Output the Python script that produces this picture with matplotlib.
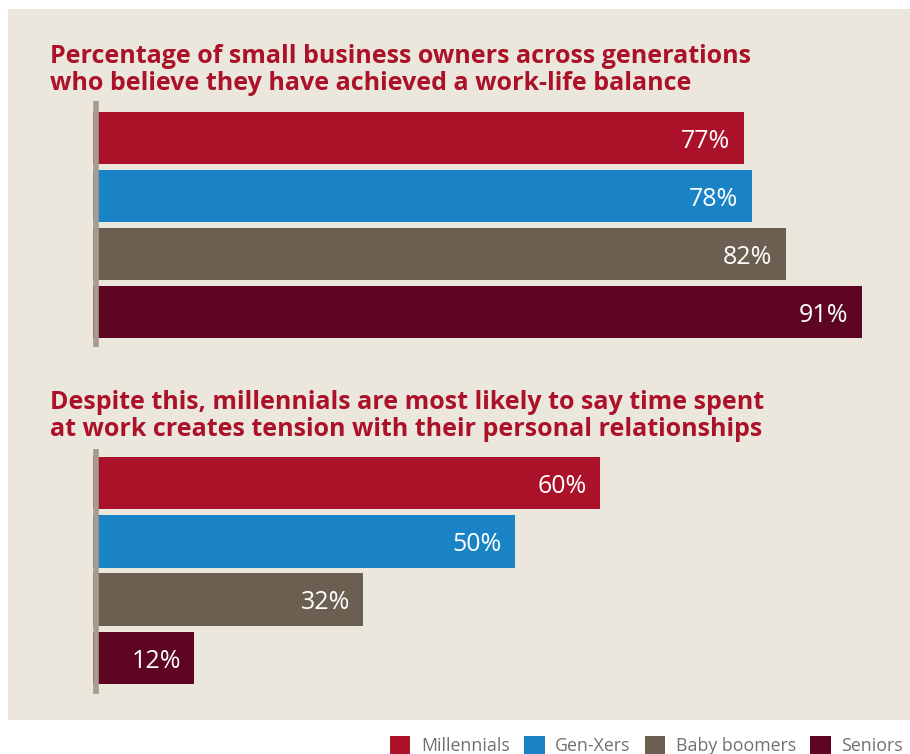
"""Two stacked bar panels: work-life balance vs. relationship tension by generation."""

import matplotlib

matplotlib.use("Agg")
import matplotlib.pyplot as plt
from matplotlib.patches import Patch, Rectangle

plt.rcParams["font.family"] = ["Open Sans", "DejaVu Sans"]

W, H = 910, 754

GENERATIONS = ["Millennials", "Gen-Xers", "Baby boomers", "Seniors"]
COLORS = ["#ab1128", "#1a83c6", "#6b5f52", "#5e0524"]

BALANCE_PCT = [77, 78, 82, 91]
TENSION_PCT = [60, 50, 32, 12]

TITLE_TOP = ("Percentage of small business owners across generations\n"
             "who believe they have achieved a work-life balance")
TITLE_BOTTOM = ("Despite this, millennials are most likely to say time spent\n"
                "at work creates tension with their personal relationships")

PANEL_BG = "#ece7dd"
TITLE_RED = "#ab1128"
AXIS_GREY = "#a89b8f"
LEGEND_GREY = "#707070"


def fx(x):
    return x / W


def fy(y):
    return 1 - y / H


def _bars(fig, values, top_px, bottom_px, ylim):
    ax = fig.add_axes([fx(93), fy(bottom_px), fx(W - 93), (bottom_px - top_px) / H])
    ax.set_facecolor("none")
    ax.set_zorder(2)
    ypos = range(len(values))
    ax.barh(ypos, values, height=0.9, color=COLORS, zorder=2)
    for y, v in zip(ypos, values):
        ax.text(v - 1.6, y, f"{v}%", ha="right", va="center_baseline",
                color="white", fontsize=18, zorder=3)
    ax.axvline(0.41, color=AXIS_GREY, lw=4, solid_capstyle="butt", zorder=4)
    ax.set_xlim(0, 96.7)
    ax.set_ylim(*ylim)
    ax.axis("off")
    return ax


def _title(fig, text, baseline_px):
    for i, line in enumerate(text.split("\n")):
        fig.text(fx(50), fy(baseline_px + i * 27), line, ha="left", va="baseline",
                 fontsize=18, fontweight="bold", color=TITLE_RED, zorder=3)


fig = plt.figure(figsize=(W / 100, H / 100), dpi=100)
fig.patch.set_facecolor("white")

# beige backdrop behind both panels, white strip left for the legend
bg = fig.add_axes([0, 0, 1, 1], zorder=0)
bg.add_patch(Rectangle((fx(8), fy(720)), fx(W - 8), (720 - 9) / H,
                       transform=fig.transFigure, facecolor=PANEL_BG, edgecolor="none"))
bg.axis("off")

_title(fig, TITLE_TOP, 63)
_bars(fig, BALANCE_PCT, 101, 347, (3.603, -0.638))

_title(fig, TITLE_BOTTOM, 409)
_bars(fig, TENSION_PCT, 449, 694, (3.617, -0.583))

handles = [Patch(facecolor=c, edgecolor="none") for c in COLORS]
fig.legend(handles, GENERATIONS, loc="upper left", bbox_to_anchor=(fx(390), fy(736)),
           ncol=4, frameon=False, fontsize=12.8, labelcolor=LEGEND_GREY,
           handlelength=1.15, handleheight=1.15, handletextpad=0.6,
           columnspacing=0.8, borderpad=0, borderaxespad=0)

fig.savefig("out.png", dpi=100, facecolor="white")
